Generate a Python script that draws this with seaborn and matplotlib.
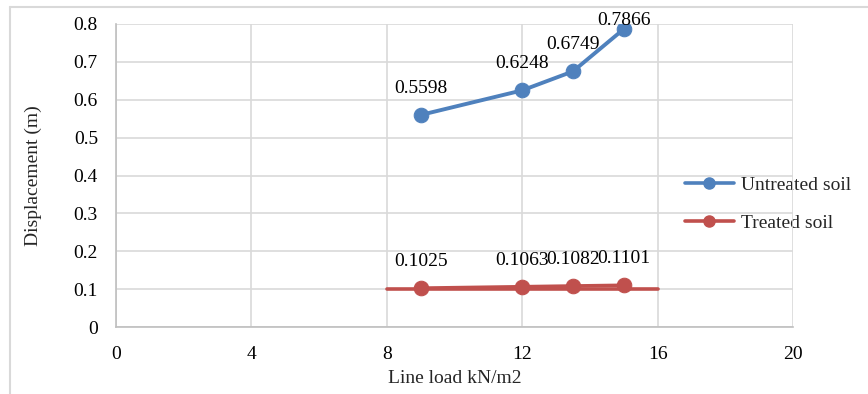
import matplotlib
matplotlib.use("Agg")
import matplotlib.pyplot as plt
import seaborn as sns
import pandas as pd
from matplotlib.lines import Line2D

# Data
line_load = [9, 12, 13.5, 15]
untreated = [0.5598, 0.6248, 0.6749, 0.7866]
treated = [0.1025, 0.1063, 0.1082, 0.1101]
treated_base_x = [8, 16]
treated_base_y = [0.1, 0.1]
x_ticks = [0, 4, 8, 12, 16, 20]
y_ticks = [0, 0.1, 0.2, 0.3, 0.4, 0.5, 0.6, 0.7, 0.8]
y_tick_labels = ["0", "0.1", "0.2", "0.3", "0.4", "0.5", "0.6", "0.7", "0.8"]

BLUE = "#4F81BD"
RED = "#C0504D"
GRID = "#D9D9D9"

sns.set_style("white")
plt.rcParams["font.family"] = ["Liberation Serif", "DejaVu Serif"]
FS = 14

fig = plt.figure(figsize=(8.68, 3.94), dpi=100)
ax = fig.add_axes([116 / 868, 1 - 327 / 394, (793 - 116) / 868, (327 - 24) / 394])

df_u = pd.DataFrame({"x": line_load, "y": untreated})
df_t = pd.DataFrame({"x": line_load, "y": treated})
df_b = pd.DataFrame({"x": treated_base_x, "y": treated_base_y})

sns.lineplot(data=df_b, x="x", y="y", ax=ax, color=RED, linewidth=2.6, zorder=3)
sns.lineplot(data=df_t, x="x", y="y", ax=ax, color=RED, linewidth=2.6,
             marker="o", markersize=10.5, markeredgecolor=RED, zorder=4)
sns.lineplot(data=df_u, x="x", y="y", ax=ax, color=BLUE, linewidth=2.8,
             marker="o", markersize=10.5, markeredgecolor=BLUE, zorder=4)

for xs, ys in ((line_load, untreated), (line_load, treated)):
    for xv, yv in zip(xs, ys):
        ax.text(xv, min(yv + 0.07, 0.81), f"{yv:.4f}", ha="center", va="center",
                fontsize=FS, color="black", clip_on=False, zorder=5)

ax.set_xlim(0, 20)
ax.set_ylim(0, 0.8)
ax.set_xticks(x_ticks)
ax.set_xticklabels([str(v) for v in x_ticks], fontsize=FS)
ax.set_yticks(y_ticks)
ax.set_yticklabels(y_tick_labels, fontsize=FS)
ax.tick_params(axis="both", length=0, colors="black")
ax.tick_params(axis="x", pad=14)
ax.tick_params(axis="y", pad=13)
ax.grid(True, color=GRID, linewidth=1.2, zorder=0)
ax.set_axisbelow(True)
for s in ("top", "right"):
    ax.spines[s].set_visible(False)
for s in ("left", "bottom"):
    ax.spines[s].set_color("#BFBFBF")
    ax.spines[s].set_linewidth(1.2)

ax.set_xlabel("Line load kN/m2", fontsize=FS, labelpad=5)
ax.set_ylabel("Displacement (m)", fontsize=FS, labelpad=23)

handles = [
    Line2D([0], [0], color=BLUE, lw=2.6, marker="o", markersize=8),
    Line2D([0], [0], color=RED, lw=2.6, marker="o", markersize=8),
]
leg = ax.legend(handles, ["Untreated soil", "Treated soil"], loc="center left",
                bbox_to_anchor=(685 / 868, 1 - 204 / 394), bbox_transform=fig.transFigure,
                frameon=False, fontsize=FS, handlelength=2.5, handletextpad=0.4,
                labelspacing=1.05, borderpad=0, borderaxespad=0)
leg.set_zorder(0.3)

# outer chart border (left and top)
fig.add_artist(Line2D([10 / 868, 10 / 868], [0, 1 - 7 / 394], color=GRID, lw=1.5,
                      transform=fig.transFigure))
fig.add_artist(Line2D([10 / 868, 1], [1 - 7 / 394, 1 - 7 / 394], color=GRID, lw=1.5,
                      transform=fig.transFigure))

fig.savefig("out.png", dpi=100)
